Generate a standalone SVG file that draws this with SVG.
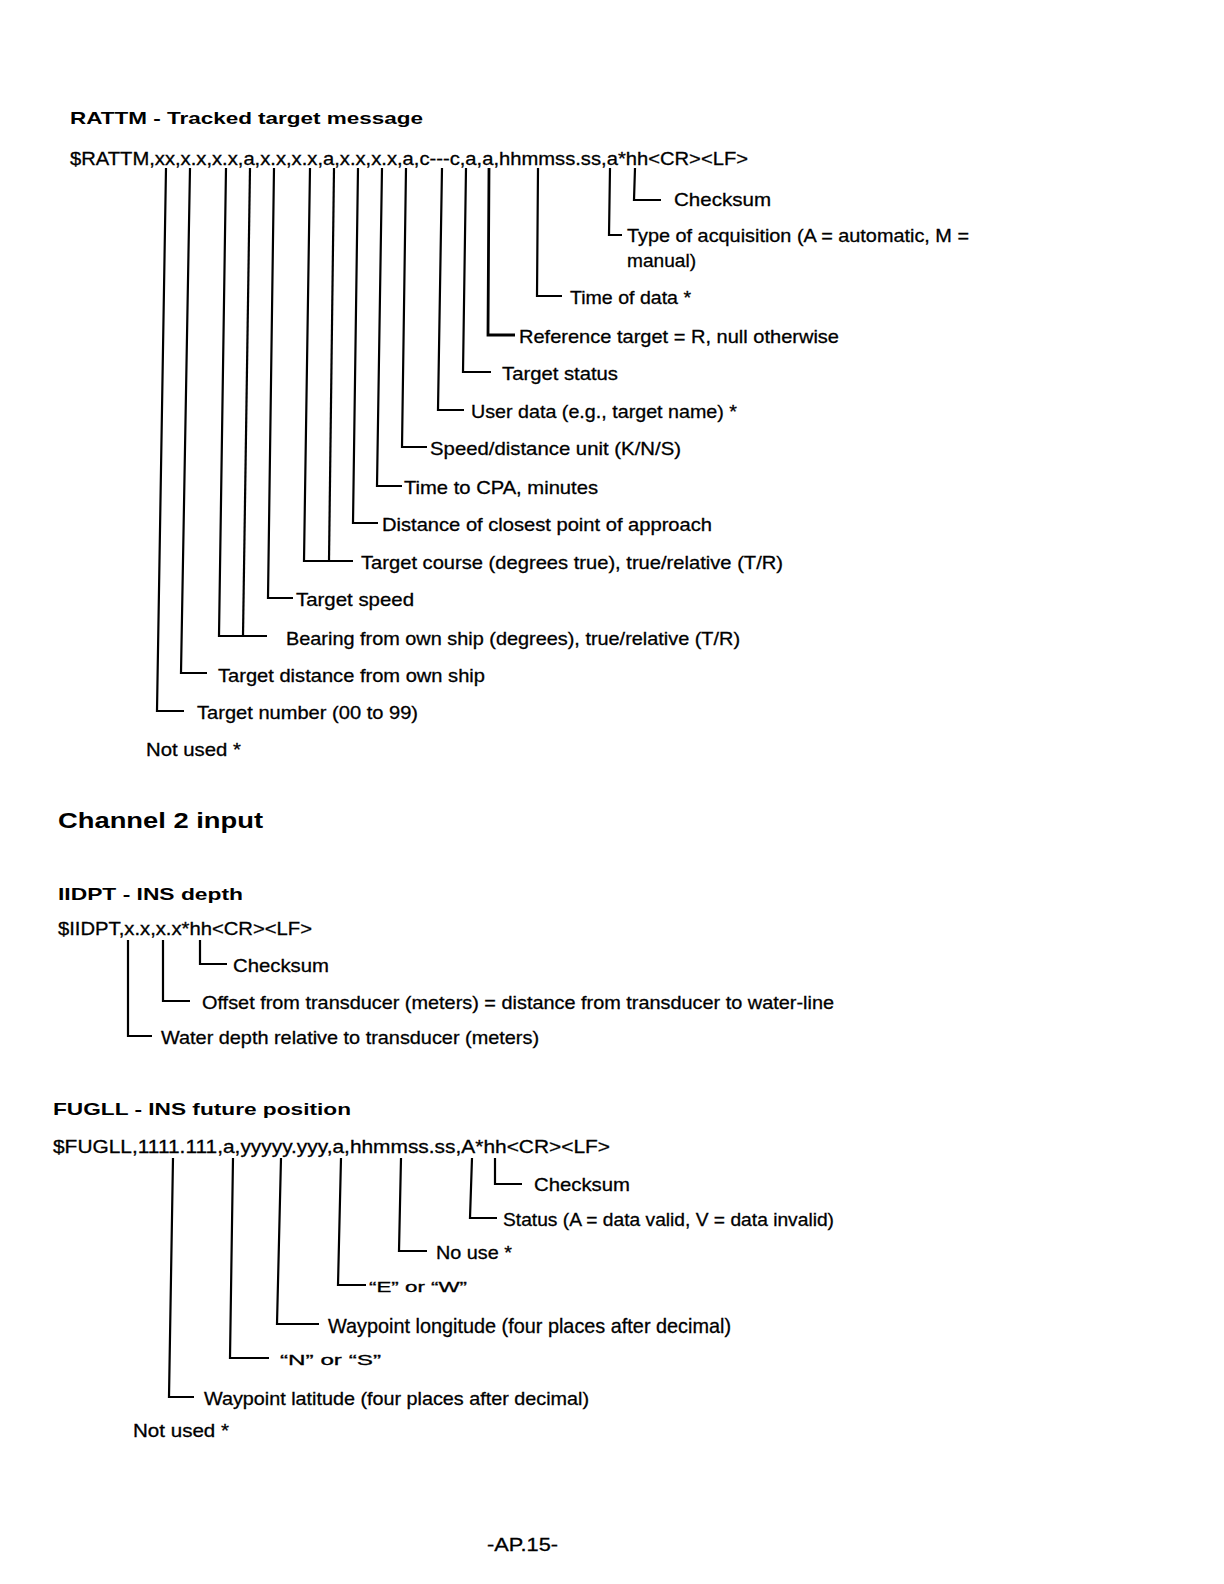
<svg xmlns="http://www.w3.org/2000/svg" width="1224" height="1584" viewBox="0 0 1224 1584">
<style>
.bg{fill:#fff}
.t{font-family:"Liberation Sans",Arial,sans-serif;font-size:19px;fill:#000;stroke:#000;stroke-width:0.3}
.s{font-family:"Liberation Sans",Arial,sans-serif;font-size:15px;fill:#000;stroke:#000;stroke-width:0.3}
.l{font-family:"Liberation Sans",Arial,sans-serif;font-size:21px;fill:#000;stroke:#000;stroke-width:0.3}
.m{font-family:"Liberation Sans",Arial,sans-serif;font-size:19px;fill:#000;stroke:#000;stroke-width:0.3}
.h{font-family:"Liberation Sans",Arial,sans-serif;font-size:17px;font-weight:bold;fill:#000}
.c{font-family:"Liberation Sans",Arial,sans-serif;font-size:22px;font-weight:bold;fill:#000}
.k{fill:none;stroke:#000;stroke-width:2.2;stroke-linejoin:miter;stroke-linecap:butt}
</style>
<rect class="bg" x="0" y="0" width="1224" height="1584"/>

<g id="rattm-title">
<text class="h" x="70" y="124" textLength="353" lengthAdjust="spacingAndGlyphs">RATTM - Tracked target message</text>
</g>
<g id="rattm-sentence">
<text class="m" x="70" y="165" textLength="678" lengthAdjust="spacingAndGlyphs">$RATTM,xx,x.x,x.x,a,x.x,x.x,a,x.x,x.x,a,c---c,a,a,hhmmss.ss,a*hh&lt;CR&gt;&lt;LF&gt;</text>
</g>

<g id="rattm-connectors">
<polyline class="k" points="635,168 634,200 661,200"/>
<polyline class="k" points="610,168 609,235 622,235"/>
<polyline class="k" points="538,168 537,296 562,296"/>
<polyline class="k" points="489,168 488,335 515,335" style="stroke-width:2.8"/>
<polyline class="k" points="466,168 463,372 491,372"/>
<polyline class="k" points="442,168 438,410 464,410"/>
<polyline class="k" points="406,168 402,447 427,447"/>
<polyline class="k" points="382,168 377,486 402,486"/>
<polyline class="k" points="358,168 353,523 378,523"/>
<polyline class="k" points="310,168 304,561 353,561"/>
<line class="k" x1="334" y1="168" x2="329" y2="561"/>
<polyline class="k" points="274,168 268,598 293,598"/>
<polyline class="k" points="226,168 219,636 267,636"/>
<line class="k" x1="250" y1="168" x2="243" y2="636"/>
<polyline class="k" points="190,168 181,673 207,673"/>
<polyline class="k" points="166,168 157,711 184,711"/>
</g>

<g id="rattm-labels">
<text class="t" x="674" y="206" textLength="97" lengthAdjust="spacingAndGlyphs">Checksum</text>
<text class="t" x="627" y="242" textLength="342" lengthAdjust="spacingAndGlyphs">Type of acquisition (A = automatic, M =</text>
<text class="t" x="627" y="267" textLength="69" lengthAdjust="spacingAndGlyphs">manual)</text>
<text class="t" x="570" y="304" textLength="121" lengthAdjust="spacingAndGlyphs">Time of data *</text>
<text class="t" x="519" y="343" textLength="320" lengthAdjust="spacingAndGlyphs">Reference target = R, null otherwise</text>
<text class="t" x="502" y="380" textLength="116" lengthAdjust="spacingAndGlyphs">Target status</text>
<text class="t" x="471" y="418" textLength="266" lengthAdjust="spacingAndGlyphs">User data (e.g., target name) *</text>
<text class="t" x="430" y="455" textLength="251" lengthAdjust="spacingAndGlyphs">Speed/distance unit (K/N/S)</text>
<text class="t" x="404" y="494" textLength="194" lengthAdjust="spacingAndGlyphs">Time to CPA, minutes</text>
<text class="t" x="382" y="531" textLength="330" lengthAdjust="spacingAndGlyphs">Distance of closest point of approach</text>
<text class="t" x="361" y="569" textLength="422" lengthAdjust="spacingAndGlyphs">Target course (degrees true), true/relative (T/R)</text>
<text class="t" x="296" y="606" textLength="118" lengthAdjust="spacingAndGlyphs">Target speed</text>
<text class="t" x="286" y="645" textLength="454" lengthAdjust="spacingAndGlyphs">Bearing from own ship (degrees), true/relative (T/R)</text>
<text class="t" x="218" y="682" textLength="267" lengthAdjust="spacingAndGlyphs">Target distance from own ship</text>
<text class="t" x="197" y="719" textLength="221" lengthAdjust="spacingAndGlyphs">Target number (00 to 99)</text>
<text class="t" x="146" y="756" textLength="95" lengthAdjust="spacingAndGlyphs">Not used *</text>
</g>

<g id="channel2">
<text class="c" x="58" y="828" textLength="205" lengthAdjust="spacingAndGlyphs">Channel 2 input</text>
</g>

<g id="iidpt-title">
<text class="h" x="58" y="900" textLength="185" lengthAdjust="spacingAndGlyphs">IIDPT - INS depth</text>
</g>
<g id="iidpt-sentence">
<text class="m" x="58" y="935" textLength="254" lengthAdjust="spacingAndGlyphs">$IIDPT,x.x,x.x*hh&lt;CR&gt;&lt;LF&gt;</text>
</g>
<g id="iidpt-connectors">
<polyline class="k" points="200,940 200,964 227,964"/>
<polyline class="k" points="163,940 163,1001 190,1001"/>
<polyline class="k" points="128,940 128,1036 152,1036"/>
</g>
<g id="iidpt-labels">
<text class="t" x="233" y="972" textLength="96" lengthAdjust="spacingAndGlyphs">Checksum</text>
<text class="t" x="202" y="1009" textLength="632" lengthAdjust="spacingAndGlyphs">Offset from transducer (meters) = distance from transducer to water-line</text>
<text class="t" x="161" y="1044" textLength="378" lengthAdjust="spacingAndGlyphs">Water depth relative to transducer (meters)</text>
</g>

<g id="fugll-title">
<text class="h" x="53" y="1115" textLength="298" lengthAdjust="spacingAndGlyphs">FUGLL - INS future position</text>
</g>
<g id="fugll-sentence">
<text class="m" x="53" y="1153" textLength="557" lengthAdjust="spacingAndGlyphs">$FUGLL,1111.111,a,yyyyy.yyy,a,hhmmss.ss,A*hh&lt;CR&gt;&lt;LF&gt;</text>
</g>
<g id="fugll-connectors">
<polyline class="k" points="495,1158 495,1184 522,1184"/>
<polyline class="k" points="472,1158 470,1218 497,1218"/>
<polyline class="k" points="401,1158 399,1251 427,1251"/>
<polyline class="k" points="341,1158 338,1285 366,1285"/>
<polyline class="k" points="281,1158 277,1324 319,1324"/>
<polyline class="k" points="233,1158 230,1358 269,1358"/>
<polyline class="k" points="173,1158 169,1397 194,1397"/>
</g>
<g id="fugll-labels">
<text class="t" x="534" y="1191" textLength="96" lengthAdjust="spacingAndGlyphs">Checksum</text>
<text class="t" x="503" y="1226" textLength="331" lengthAdjust="spacingAndGlyphs">Status (A = data valid, V = data invalid)</text>
<text class="t" x="436" y="1259" textLength="76" lengthAdjust="spacingAndGlyphs">No use *</text>
<text class="s" x="369" y="1292" textLength="98" lengthAdjust="spacingAndGlyphs">“E” or “W”</text>
<text class="l" x="328" y="1333" textLength="403" lengthAdjust="spacingAndGlyphs">Waypoint longitude (four places after decimal)</text>
<text class="s" x="280" y="1365" textLength="101" lengthAdjust="spacingAndGlyphs">“N” or “S”</text>
<text class="t" x="204" y="1405" textLength="385" lengthAdjust="spacingAndGlyphs">Waypoint latitude (four places after decimal)</text>
<text class="t" x="133" y="1437" textLength="96" lengthAdjust="spacingAndGlyphs">Not used *</text>
</g>

<g id="page-number">
<text class="t" x="487" y="1551" textLength="71" lengthAdjust="spacingAndGlyphs">-AP.15-</text>
</g>
</svg>
